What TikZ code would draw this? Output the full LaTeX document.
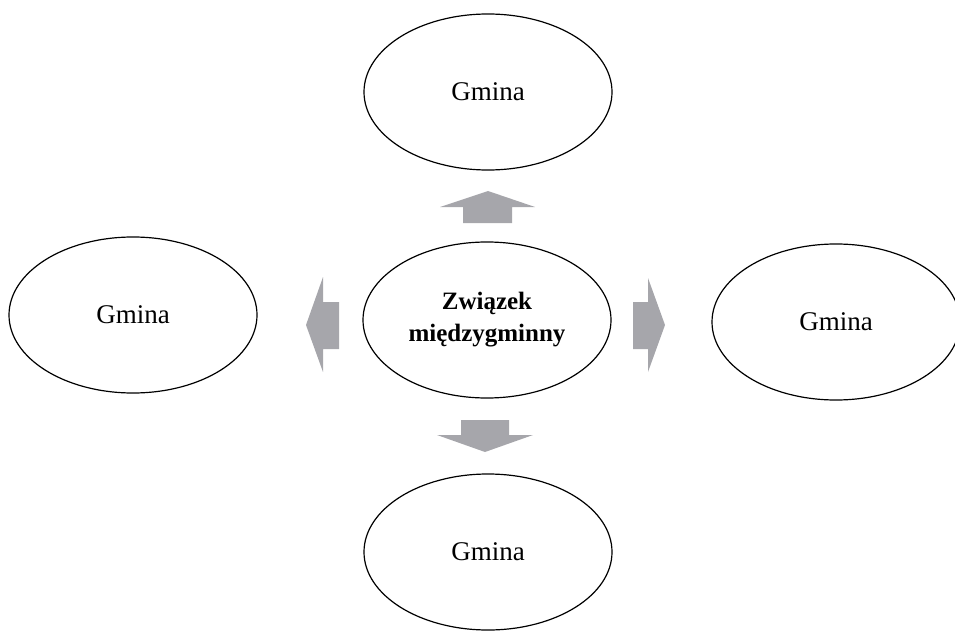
\documentclass[tikz,border=0pt]{standalone}
\usepackage{fontspec}
\setmainfont{Liberation Serif}
\usetikzlibrary{shapes.geometric}
\definecolor{arrowgray}{RGB}{166,166,171}
\begin{document}
\begin{tikzpicture}[x=1pt,y=-1pt,
  gmina/.style={ellipse,draw=black,line width=1.2pt,minimum width=248pt,minimum height=156pt,inner sep=0pt,
    font=\fontsize{27}{31}\selectfont,align=center},
  blockarrow/.style={fill=arrowgray,draw=none}]
\useasboundingbox (0,0) rectangle (955,631);
\node[gmina] (top) at (488,92) {Gmina};
\node[gmina,font=\fontsize{25}{32}\selectfont\bfseries] (center) at (487,320) {Związek\\międzygminny};
\node[gmina] (left) at (133,315) {Gmina};
\node[gmina] (right) at (836,322) {Gmina};
\node[gmina] (bottom) at (488,552) {Gmina};
% up arrow
\fill[blockarrow] (463,223) -- (463,207) -- (440,207) -- (488,191) -- (535,207) -- (512,207) -- (512,223) -- cycle;
% down arrow
\fill[blockarrow] (461,420) -- (509,420) -- (509,435) -- (533,435) -- (485,452) -- (437,435) -- (461,435) -- cycle;
% left arrow
\fill[blockarrow] (339,302) -- (323,302) -- (323,277) -- (306,325) -- (323,372) -- (323,349) -- (339,349) -- cycle;
% right arrow
\fill[blockarrow] (633,302) -- (648,302) -- (648,278) -- (665,325) -- (648,372) -- (648,349) -- (633,349) -- cycle;
\end{tikzpicture}
\end{document}
